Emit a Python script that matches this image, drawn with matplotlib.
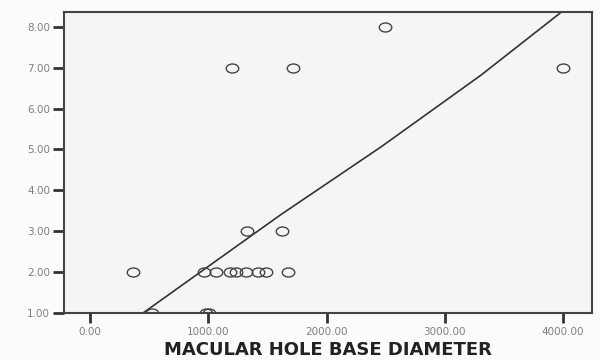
import matplotlib.pyplot as plt
from matplotlib.path import Path
from matplotlib.transforms import Affine2D

# scatter data
base_diam = [2490, 1200, 1712, 4000, 1322, 1619,
             364, 966, 1068, 1186, 1229, 1314, 1415, 1483, 1670,
             525, 983, 1005]
score = [8, 7, 7, 7, 3, 3,
         2, 2, 2, 2, 2, 2, 2, 2, 2,
         1, 1, 1]

# fit line (traced points)
fit_x = [449, 1610, 2458, 3305, 3983]
fit_y = [1.0, 3.40, 5.06, 6.82, 8.36]

xticks = [0, 1000, 2000, 3000, 4000]
yticks = [1, 2, 3, 4, 5, 6, 7, 8]

# slightly squashed circle, like the scanned markers
oval = Path.unit_circle().transformed(Affine2D().scale(1.0, 0.72))

fig = plt.figure(figsize=(6, 3.6), dpi=100, facecolor="#fbfbfb")
ax = fig.add_axes([0.107, 0.131, 0.88, 0.836], facecolor="#f3f5f6")

ax.plot(fit_x, fit_y, color="#333333", lw=1.2)
ax.plot(base_diam, score, ls="none", marker=oval, ms=9, mfc="none",
        mec="#444444", mew=1.0)

ax.set_xlim(-220, 4246)
ax.set_ylim(1.0, 8.37)
ax.set_xticks(xticks)
ax.set_xticklabels([f"{v:.2f}" for v in xticks])
ax.set_yticks(yticks)
ax.set_yticklabels([f"{v:.2f}" for v in yticks])

for s in ax.spines.values():
    s.set_color("#444444")
    s.set_linewidth(1.5)

ax.tick_params(axis="y", direction="out", length=8, width=2, color="#333333",
               labelsize=7.5, labelcolor="#808080", pad=2)
ax.tick_params(axis="x", direction="out", length=7, width=2, color="#333333",
               labelsize=7.5, labelcolor="#808080", pad=3)

ax.set_xlabel("MACULAR HOLE BASE DIAMETER", fontsize=13, fontweight="bold",
              color="#222222", labelpad=3)

fig.savefig("out.png", dpi=100, facecolor=fig.get_facecolor())
